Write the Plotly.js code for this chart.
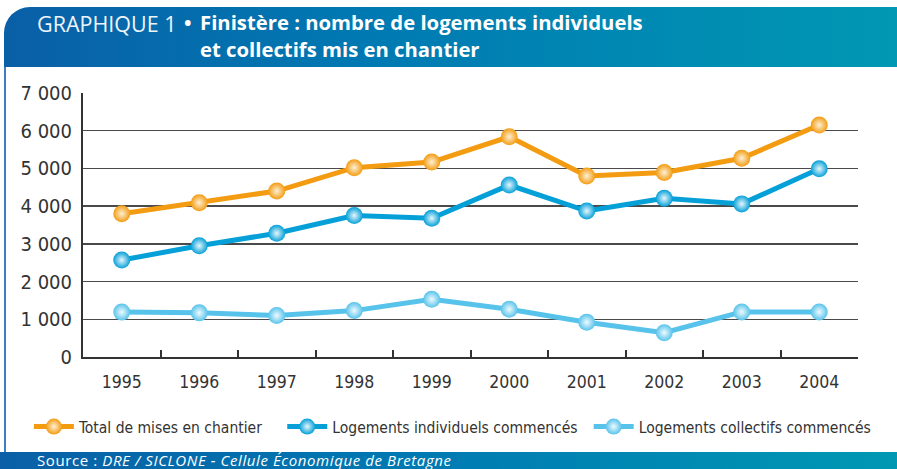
<!DOCTYPE html>
<html><head><meta charset="utf-8">
<script src="https://cdn.plot.ly/plotly-3.0.1.min.js"></script>
<style>
html,body{margin:0;padding:0;background:#fff;width:897px;height:469px;overflow:hidden;font-family:"Open Sans",Roboto,sans-serif;}
#header{position:absolute;left:4px;top:7px;width:893px;height:60px;border-top-left-radius:26px;background:linear-gradient(90deg,#0a5fa6 0%,#0079b2 40%,#0098b3 100%);}
#t1{position:absolute;left:37px;top:9px;color:#eef5fa;font-size:21.5px;font-weight:normal;white-space:nowrap;}
#t2{position:absolute;left:200px;top:9px;color:#fff;font-size:20.3px;font-weight:bold;white-space:nowrap;line-height:27px;}
#bul{position:absolute;left:184px;top:9px;color:#fff;font-size:20px;font-weight:bold;}
#border{position:absolute;left:4px;top:67px;width:2px;height:386px;background:#3b7fc1;}
#footer{position:absolute;left:0;top:452px;width:897px;height:17px;background:linear-gradient(90deg,#0a5fa6 0%,#0079b2 45%,#0098b3 100%);}
#src{position:absolute;left:37px;top:452px;height:17px;line-height:17px;color:#fff;font-size:15px;letter-spacing:0.6px;white-space:nowrap;}
#plot{position:absolute;left:0;top:0;width:897px;height:469px;}
</style></head>
<body>
<div id="header"></div>
<div id="t1">GRAPHIQUE 1</div>
<div id="bul">•</div>
<div id="t2">Finistère : nombre de logements individuels<br>et collectifs mis en chantier</div>
<div id="border"></div>
<div id="footer"></div>
<div id="src">Source : <i>DRE / SICLONE - Cellule Économique de Bretagne</i></div>
<div id="plot"></div>
<script>
const years = ["1995","1996","1997","1998","1999","2000","2001","2002","2003","2004"];
const total = [3800,4090,4400,5020,5170,5840,4800,4890,5270,6150];
const individuels = [2570,2950,3280,3750,3680,4560,3870,4210,4060,4990];
const collectifs = [1190,1170,1100,1230,1530,1265,920,645,1195,1195];
const yTickVals = [0,1000,2000,3000,4000,5000,6000,7000];
const yTickText = ["0","1 000","2 000","3 000","4 000","5 000","6 000","7 000"];
const names = ["Total de mises en chantier","Logements individuels commencés","Logements collectifs commencés"];

const narrow = '"DejaVu Sans Condensed","Liberation Sans Narrow",sans-serif';
function tr(y, name, color, center, leg){
  return {x: years, y: y, name: name, type:'scatter', mode:'lines+markers', legend: leg,
    line:{color:color, width:5},
    marker:{size:17, color:color, line:{width:0}, gradient:{type:'radial', color:center}},
    cliponaxis:false};
}
const data = [
  tr(total, names[0], '#f39c12', '#fdf0d6', 'legend'),
  tr(individuels, names[1], '#05a0d8', '#e6f6fc', 'legend2'),
  tr(collectifs, names[2], '#58c3ea', '#eefaff', 'legend3')
];
function leg(x){
  return {orientation:'h', x:x, xanchor:'left', y:-0.265, yanchor:'middle',
    font:{family:narrow, size:15.5, color:'#333'}, bgcolor:'rgba(0,0,0,0)', itemwidth:40};
}
const layout = {
  width:897, height:469,
  margin:{l:83, r:39, t:93, b:112, pad:0},
  paper_bgcolor:'rgba(0,0,0,0)', plot_bgcolor:'rgba(0,0,0,0)',
  showlegend:true,
  legend:leg(-0.0698), legend2:leg(0.2571), legend3:leg(0.6525),
  xaxis:{type:'category', range:[-0.5,9.5], showgrid:false, showline:true, linecolor:'#333', linewidth:2,
    ticks:'inside', tickson:'boundaries', ticklen:7, tickwidth:2, tickcolor:'#333',
    tickfont:{family:narrow, size:17.5, color:'#333'}, ticklabelstandoff:8, zeroline:false, fixedrange:true},
  yaxis:{range:[0,7000], tickvals:yTickVals, ticktext:yTickText, showgrid:true, gridcolor:'#4a4a4a', gridwidth:1.5,
    showline:true, linecolor:'#333', linewidth:2, ticks:'', zeroline:false,
    tickfont:{family:narrow, size:20, color:'#333'}, ticklabelstandoff:5, fixedrange:true}
};
Plotly.newPlot('plot', data, layout, {displayModeBar:false, staticPlot:true});
</script>
</body></html>
